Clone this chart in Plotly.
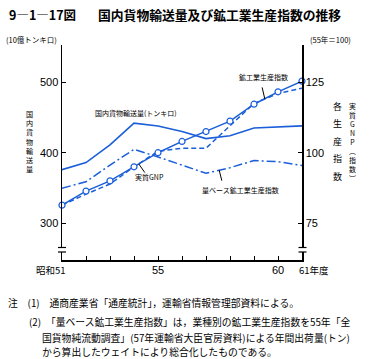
import numpy as np
import plotly.graph_objects as go

# ---------------- data ----------------
years = [51, 52, 53, 54, 55, 56, 57, 58, 59, 60, 61]
freight_tonkm = [376, 386, 411, 442, 438, 430, 420, 424, 435, 437, 438]          # left axis (10億トンキロ)
qty_base_index = [87.4, 89.7, 95.6, 101.2, 98.5, 95.7, 92.7, 94.7, 97.2, 96.8, 95.5]  # right axis
real_gnp = [81.4, 86.4, 90.0, 95.0, 100.0, 104.0, 107.5, 111.2, 117.2, 121.6, 125.4]  # right axis
ind_prod_index = [81.4, 85.3, 88.9, 95.0, 100.5, 101.6, 101.6, 109.4, 117.5, 121.0, 122.9]  # right axis

left_ticks = [300, 400, 500]
right_ticks = [75, 100, 125]
x_labels = {51: "昭和51", 55: "55", 60: "60", 61: "61年度"}

# ---------------- layout geometry ----------------
W, H = 385, 359
L, R, T, B = 62, 83, 45, 99
PW, PH = W - L - R, H - T - B
BLUE = "#1b5fd8"
FONT = "Noto Sans CJK JP"
NUMFONT = "Liberation Sans Narrow, Liberation Sans"


def px(x):
    return (x - L) / PW


def py(y):
    return (H - B - y) / PH


fig = go.Figure()

fig.add_trace(go.Scatter(x=years, y=freight_tonkm, mode="lines",
                         line=dict(color=BLUE, width=1.6), yaxis="y", cliponaxis=False,
                         name="国内貨物輸送量", hoverinfo="skip"))
fig.add_trace(go.Scatter(x=years, y=qty_base_index, mode="lines",
                         line=dict(color=BLUE, width=1.5, dash="9px,3px,2px,3px"),
                         yaxis="y2", cliponaxis=False, name="量ベース鉱工業生産指数",
                         hoverinfo="skip"))
fig.add_trace(go.Scatter(x=years, y=ind_prod_index, mode="lines",
                         line=dict(color=BLUE, width=1.5, dash="5px,3px"),
                         yaxis="y2", cliponaxis=False, name="鉱工業生産指数",
                         hoverinfo="skip"))
fig.add_trace(go.Scatter(x=years, y=real_gnp, mode="lines+markers",
                         line=dict(color=BLUE, width=1.5),
                         marker=dict(symbol="circle", size=6, color="white",
                                     line=dict(color=BLUE, width=1.2)),
                         yaxis="y2", cliponaxis=False, name="実質GNP", hoverinfo="skip"))

left_range = [247.8, 552.8]
right_range = [v / 4 for v in left_range]

fig.update_layout(
    width=W, height=H,
    margin=dict(l=L, r=R, t=T, b=B, pad=0),
    paper_bgcolor="white", plot_bgcolor="white",
    showlegend=False,
    hovermode=False,
    font=dict(family=FONT, color="black", size=10),
    xaxis=dict(range=[51, 61], showgrid=False, zeroline=False, showline=True,
               linecolor="black", linewidth=1.5, ticks="inside", ticklen=4,
               tickcolor="black", tickwidth=1, tickvals=years, showticklabels=False),
    yaxis=dict(range=left_range, showgrid=False, zeroline=False, showline=True,
               linecolor="black", linewidth=1.5, ticks="inside", ticklen=4,
               tickcolor="black", tickvals=left_ticks,
               tickfont=dict(family=NUMFONT, size=11)),
    yaxis2=dict(range=right_range, overlaying="y", side="right", showgrid=False,
                zeroline=False, showline=True, linecolor="black", linewidth=1.5,
                ticks="inside", ticklen=4, tickcolor="black", tickvals=right_ticks,
                tickfont=dict(family=NUMFONT, size=11)),
)

ann = []


def txt(x, y, text, size=10, xanchor="left", yanchor="middle", family=FONT, **kw):
    ann.append(dict(x=px(x), y=py(y), xref="paper", yref="paper", text=text,
                    showarrow=False, xanchor=xanchor, yanchor=yanchor,
                    font=dict(family=family, size=size, color="black"), **kw))


# title
txt(7, 14, "<b>9―1―17図</b>", size=12.5)
txt(96, 14, "<b>国内貨物輸送量及び鉱工業生産指数の推移</b>", size=12.8)

# units
txt(4, 40, "(10億トンキロ)", size=7.5)
txt(308, 40, "(55年＝100)", size=7.5)

# vertical axis titles (one character per line)
txt(29, 141, "<br>".join("国内貨物輸送量"), size=7.1, xanchor="center")
txt(352, 142, "<br>".join("実質GNP︵指数︶"), size=6.9, xanchor="center")
for i, ch in enumerate("各生産指数"):
    txt(337, 106 + i * 17.6, ch, size=9, xanchor="center")

# x tick labels
for xv, lab in x_labels.items():
    if xv == 51:
        ann.append(dict(x=xv, y=py(270), xref="x", yref="paper", text=lab, showarrow=False,
                        xanchor="right", yanchor="middle", xshift=6,
                        font=dict(family=FONT, size=9.5)))
    elif xv == 61:
        ann.append(dict(x=xv, y=py(270), xref="x", yref="paper", text=lab, showarrow=False,
                        xanchor="left", yanchor="middle", xshift=-5,
                        font=dict(family=FONT, size=9.5)))
    else:
        ann.append(dict(x=xv, y=py(270), xref="x", yref="paper", text=lab, showarrow=False,
                        xanchor="center", yanchor="middle",
                        font=dict(family=NUMFONT, size=11)))

# series labels
txt(93, 112.5, "国内貨物輸送量(トンキロ)", size=7)
txt(237, 77, "鉱工業生産指数", size=7)
txt(133, 177, "実質GNP", size=7)
txt(200, 189.5, "量ベース鉱工業生産指数", size=7)


# leaders (tip on the series line, tail toward label)
def leader(xd, series, ax, ay):
    yd = float(np.interp(xd, years, series))
    ann.append(dict(x=xd, y=yd, xref="x", yref="y2", text="", showarrow=True,
                    arrowhead=0, arrowwidth=1, arrowcolor="black", ax=ax, ay=ay,
                    axref="pixel", ayref="pixel", standoff=0, startstandoff=0))


leader(54.2, real_gnp, 7, 10)
leader(59.45, ind_prod_index, -3, -13)
leader(57.55, qty_base_index, 3, 12)

# notes
notes = [
    (6, 303, "注　(1)　通商産業省「通産統計」，運輸省情報管理部資料による。"),
    (27, 321.5, "(2)　「量ベース鉱工業生産指数」は，業種別の鉱工業生産指数を55年「全"),
    (40, 338, "国貨物純流動調査」(57年運輸省大臣官房資料)による年間出荷量(トン)"),
    (40, 351.5, "から算出したウェイトにより総合化したものである。"),
]
for x0, y0, t in notes:
    txt(x0, y0, t, size=9.8)

fig.update_layout(annotations=ann)

# axis break marks
shapes = []
for ax_x in (62, 302.5):
    shapes.append(dict(type="rect", xref="paper", yref="paper",
                       x0=px(ax_x - 3), x1=px(ax_x + 3), y0=py(252), y1=py(247.5),
                       fillcolor="white", line=dict(width=0), layer="above"))
    for yy in (247.5, 252):
        shapes.append(dict(type="line", xref="paper", yref="paper",
                           x0=px(ax_x - 4), x1=px(ax_x + 4), y0=py(yy), y1=py(yy),
                           line=dict(color="black", width=1.2), layer="above"))
fig.update_layout(shapes=shapes)

fig.write_html(
    "out.html",
    config={"displayModeBar": False, "staticPlot": True},
    post_script="document.body.style.margin='0';document.body.style.overflow='hidden';",
)
